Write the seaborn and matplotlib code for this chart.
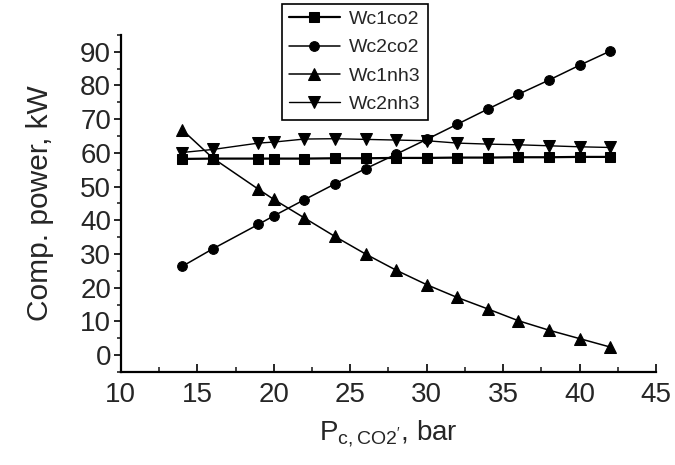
import numpy as np
import pandas as pd
import matplotlib
matplotlib.use("Agg")
import matplotlib.pyplot as plt
from matplotlib.ticker import MultipleLocator
import seaborn as sns

# --- Data ---
p_co2 = [14, 16, 19, 20, 22, 24, 26, 28, 30, 32, 34, 36, 38, 40, 42]
wc1co2 = [58.2, 58.3, 58.3, 58.3, 58.3, 58.4, 58.4, 58.5, 58.5, 58.6, 58.6, 58.7, 58.7, 58.8, 58.8]
wc2co2 = [26.3, 31.5, 38.8, 41.3, 46.1, 50.8, 55.3, 59.6, 64.0, 68.5, 73.0, 77.4, 81.6, 86.0, 90.2]
wc1nh3 = [66.9, 58.5, 49.2, 46.2, 40.7, 35.2, 30.0, 25.2, 20.9, 17.1, 13.7, 10.2, 7.4, 4.9, 2.4]
wc2nh3 = [60.1, 61.0, 62.9, 63.2, 64.1, 64.2, 64.0, 63.8, 63.6, 62.9, 62.6, 62.4, 62.1, 61.8, 61.6]

series = {
    "Wc1co2": (wc1co2, "s", 1.6),
    "Wc2co2": (wc2co2, "o", 1.1),
    "Wc1nh3": (wc1nh3, "^", 1.1),
    "Wc2nh3": (wc2nh3, "v", 1.0),
}

# --- Style ---
sns.set_style("ticks")
plt.rcParams["font.family"] = ["Liberation Sans", "DejaVu Sans"]

fig = plt.figure(figsize=(6.75, 4.65), dpi=100)
ax = fig.add_axes([0.179, 0.2, 0.793, 0.725])

for name, (vals, mk, lw) in series.items():
    df = pd.DataFrame({"p": p_co2, "w": vals})
    sns.lineplot(data=df, x="p", y="w", ax=ax, color="black", marker=mk,
                 markersize=8.5 if mk in "^v" else 7, markeredgecolor="black",
                 linewidth=lw, label=name)

ax.set_xlim(10, 45)
ax.set_ylim(-5, 95)
ax.xaxis.set_major_locator(MultipleLocator(5))
ax.xaxis.set_minor_locator(MultipleLocator(2.5))
ax.yaxis.set_minor_locator(MultipleLocator(5))
ax.set_yticks(np.arange(0, 91, 10))

ax.tick_params(axis="x", which="major", direction="in", length=6, width=1.4, labelsize=20, pad=7)
ax.tick_params(axis="x", which="minor", direction="in", length=3.5, width=1.2)
ax.tick_params(axis="y", which="major", direction="out", length=5, width=1.4, labelsize=20, pad=2)
ax.tick_params(axis="y", which="minor", direction="out", length=3, width=1.2)

for side in ["top", "right"]:
    ax.spines[side].set_visible(False)
for side in ["left", "bottom"]:
    ax.spines[side].set_linewidth(1.6)
    ax.spines[side].set_color("black")

ax.set_xlabel(r"P$_{\mathregular{c,CO2'}}$, bar", fontsize=20, labelpad=8)
ax.set_ylabel("Comp. power, kW", fontsize=21.5, labelpad=19)

leg = ax.legend(loc="upper left", bbox_to_anchor=(0.418, 0.992), bbox_transform=fig.transFigure,
                fontsize=14, frameon=True, fancybox=False, edgecolor="black",
                handlelength=2.6, handletextpad=0.5, borderpad=0.35, labelspacing=0.55,
                borderaxespad=0)
leg.get_frame().set_linewidth(1.2)
leg.get_frame().set_alpha(1)

fig.savefig("out.png", dpi=100)
